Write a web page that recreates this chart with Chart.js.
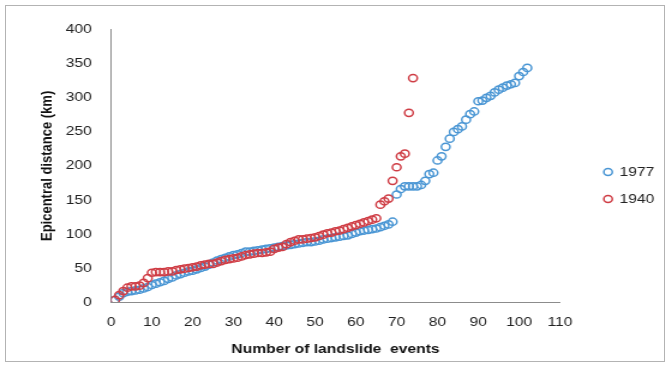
<!DOCTYPE html>
<html>
<head>
<meta charset="utf-8">
<script src="https://cdn.jsdelivr.net/npm/chart.js@4.4.0/dist/chart.umd.min.js"></script>
<style>
  html, body { margin: 0; padding: 0; background: #fff; }
  #frame { position: absolute; left: 5px; top: 5px; width: 658px; height: 355px; border: 1px solid #b3b3b3; overflow: hidden; }
  /* the reference picture is stretched sideways, so the canvas is too */
  #chart { position: absolute; left: 0; top: 0; transform: scaleX(1.2); transform-origin: 0 0; }
</style>
</head>
<body>
<div id="frame"><canvas id="chart" width="548" height="355"></canvas></div>
<script>
// epicentral distance (km) of each landslide event, sorted; x = event number
const dist1977 = [
  3, 8, 13, 15, 16, 17, 18, 20, 22, 25,
  27, 29, 31, 34, 36, 39, 41, 43, 45, 46,
  48, 50, 52, 55, 58, 61, 63, 65, 67, 69,
  70, 72, 74, 74, 75, 76, 77, 78, 79, 80,
  81, 82, 83, 84, 85, 86, 87, 88, 88, 89,
  90, 92, 93, 94, 95, 96, 97, 98, 100, 102,
  104, 105, 106, 107, 108, 110, 112, 114, 118, 158,
  166, 170, 170, 170, 170, 172, 178, 188, 190, 208,
  214, 228, 240, 250, 254, 258, 268, 276, 280, 295,
  296, 300, 303, 308, 312, 315, 318, 320, 322, 332,
  338, 344
];
const dist1940 = [
  3, 10, 16, 21, 23, 23, 24, 28, 35, 43,
  44, 44, 44, 45, 45, 47, 48, 49, 50, 51,
  52, 54, 55, 56, 56, 58, 60, 62, 63, 64,
  65, 67, 69, 70, 71, 72, 72, 73, 74, 78,
  80, 81, 85, 88, 90, 92, 92, 93, 94, 95,
  97, 99, 101, 102, 104, 105, 107, 109, 111, 113,
  115, 117, 119, 121, 123, 143, 148, 152, 178, 198,
  214, 218, 278, 329
];
const seriesNames = ['1977', '1940'];
const xTicks = { min: 0, max: 110, step: 10 };
const yTicks = { min: 0, max: 400, step: 50 };

const blue = '#4a96d4';
const red = '#cf3d45';

function toPoints(arr) {
  return arr.map((v, i) => ({ x: i + 1, y: v }));
}

// place the legend where the reference has it
const legendPlace = {
  id: 'legendPlace',
  afterLayout(chart) {
    const lg = chart.legend;
    const w = lg.width, h = lg.height;
    lg.left = 484.7; lg.right = lg.left + w;
    lg.top = 145.5; lg.bottom = lg.top + h;
  }
};

Chart.defaults.font.family = "'Liberation Sans', Arial, sans-serif";
Chart.defaults.color = '#333';

new Chart(document.getElementById('chart'), {
  type: 'scatter',
  data: {
    datasets: [
      {
        label: seriesNames[0],
        data: toPoints(dist1977),
        borderColor: blue,
        backgroundColor: 'rgba(0,0,0,0)',
        pointRadius: 3.6,
        pointBorderWidth: 1.5,
        order: 1
      },
      {
        label: seriesNames[1],
        data: toPoints(dist1940),
        borderColor: red,
        backgroundColor: 'rgba(0,0,0,0)',
        pointRadius: 3.6,
        pointBorderWidth: 1.5,
        order: 0
      }
    ]
  },
  options: {
    responsive: false,
    animation: false,
    layout: { padding: { left: 23, right: 21, top: 16, bottom: 0 } },
    plugins: {
      tooltip: { enabled: false },
      legend: {
        position: 'right',
        align: 'start',
        labels: {
          usePointStyle: true,
          boxWidth: 6,
          boxHeight: 5,
          padding: 14,
          color: '#222',
          font: { size: 13 },
          sort: (a, b) => a.datasetIndex - b.datasetIndex
        }
      }
    },
    scales: {
      x: {
        type: 'linear',
        min: xTicks.min,
        max: xTicks.max,
        grid: { display: false, drawTicks: false },
        border: { display: true, color: '#8c8c8c', width: 1 },
        ticks: { stepSize: xTicks.step, padding: 13, font: { size: 13 }, color: '#222' },
        title: { display: true, text: 'Number of landslide  events', color: '#111', font: { size: 13, weight: 'bold' } },
        afterFit(scale) { scale.height = 59; }
      },
      y: {
        min: yTicks.min,
        max: yTicks.max,
        grid: { display: false, drawTicks: false },
        border: { display: true, color: '#8c8c8c', width: 1 },
        ticks: { stepSize: yTicks.step, padding: 16, font: { size: 13 }, color: '#222' },
        title: { display: true, text: 'Epicentral distance (km)', color: '#111', font: { size: 13, weight: 'bold' } },
        afterFit(scale) { scale.width = 64.5; }
      }
    }
  },
  plugins: [legendPlace]
});
</script>
</body>
</html>
